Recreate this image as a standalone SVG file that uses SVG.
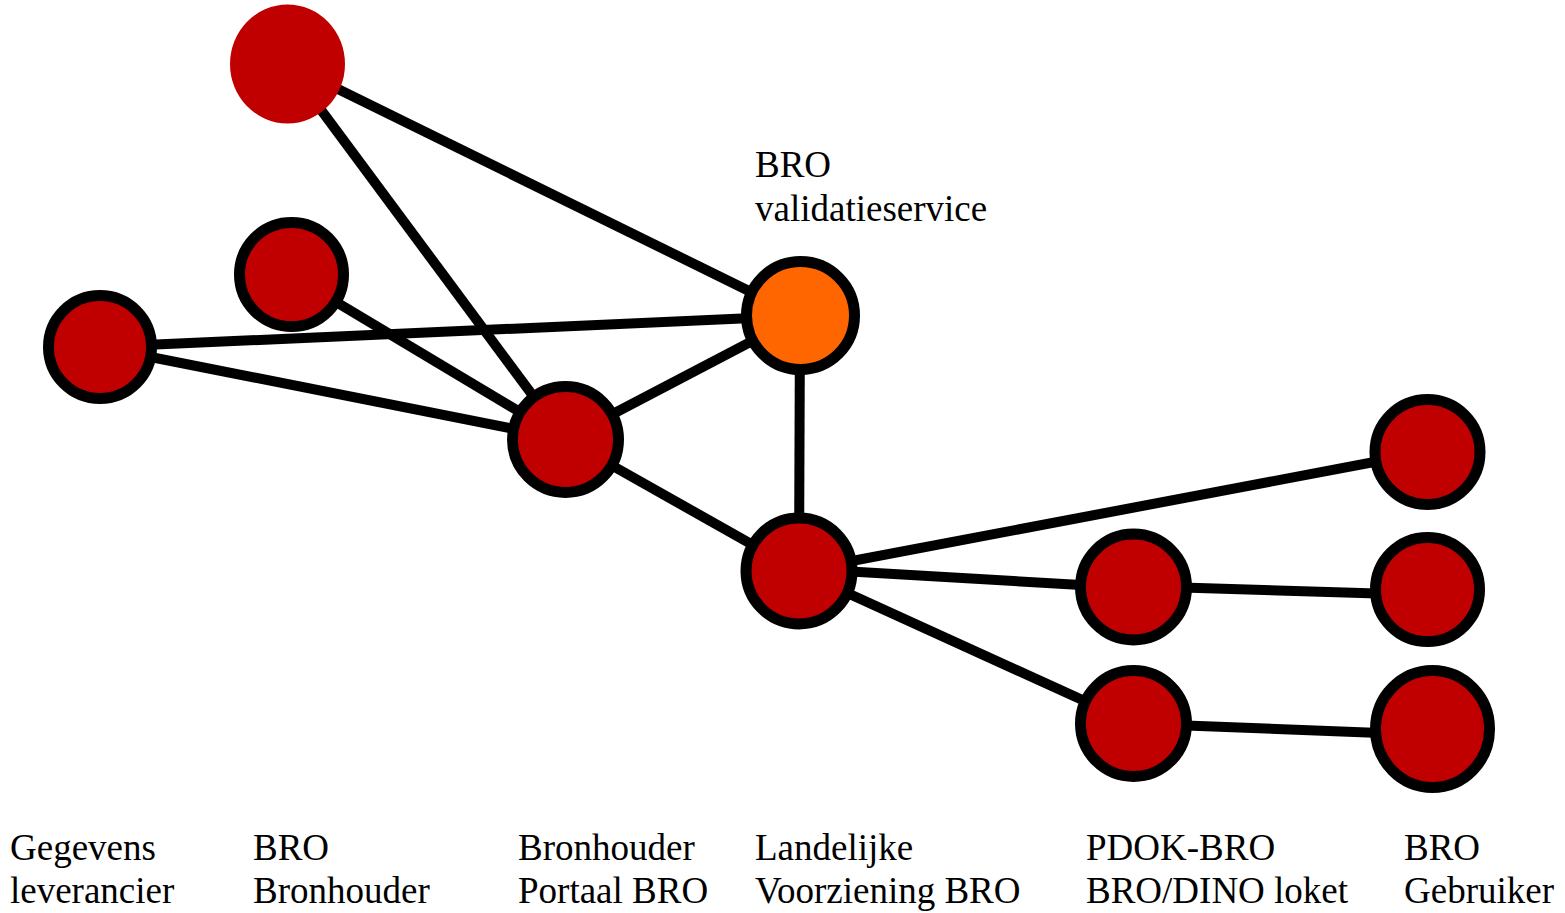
<svg xmlns="http://www.w3.org/2000/svg" width="1565" height="913" viewBox="0 0 1565 913">
<style>
.edge{stroke:#000;stroke-width:10;fill:none}
.n{fill:#C00000;stroke:#000;stroke-width:11}
.o{fill:#FF6600;stroke:#000;stroke-width:11}
.lbl{font-family:"Liberation Serif","Times New Roman",serif;font-size:37px;fill:#000}
</style>
<rect width="1565" height="913" fill="#fff"/>
<g id="connectors">
<line class="edge" x1="287" y1="64" x2="800" y2="316"/>
<line class="edge" x1="287" y1="64" x2="565" y2="439"/>
<line class="edge" x1="291" y1="275" x2="565" y2="439"/>
<line class="edge" x1="100" y1="347" x2="800" y2="316"/>
<line class="edge" x1="100" y1="347" x2="565" y2="439"/>
<line class="edge" x1="565" y1="439" x2="800" y2="316"/>
<line class="edge" x1="565" y1="439" x2="799" y2="571"/>
<line class="edge" x1="800" y1="316" x2="799" y2="571"/>
<line class="edge" x1="799" y1="571" x2="1427" y2="452"/>
<line class="edge" x1="799" y1="568.5" x2="1133" y2="588"/>
<line class="edge" x1="799" y1="571" x2="1133" y2="723"/>
<line class="edge" x1="1133" y1="586" x2="1427" y2="595"/>
<line class="edge" x1="1133" y1="723.5" x2="1432" y2="735"/>
</g>
<g id="node-top"><ellipse cx="287.5" cy="64" rx="57.5" ry="59.5" fill="#C00000"/></g>
<g id="node-bro-bronhouder"><circle class="n" cx="291.5" cy="274.5" r="52"/></g>
<g id="node-gegevens"><circle class="n" cx="100" cy="347" r="51.5"/></g>
<g id="node-validatie"><circle class="o" cx="800.5" cy="315.5" r="54"/>
<text class="lbl" x="755" y="177">BRO</text>
<text class="lbl" x="755" y="221">validatieservice</text></g>
<g id="node-portaal"><circle class="n" cx="565.5" cy="439.5" r="53"/></g>
<g id="node-lv"><circle class="n" cx="799" cy="571" r="53"/></g>
<g id="node-gebruiker1"><circle class="n" cx="1427.5" cy="452" r="52.5"/></g>
<g id="node-pdok1"><circle class="n" cx="1133.5" cy="587" r="53"/></g>
<g id="node-gebruiker2"><circle class="n" cx="1427.5" cy="589.5" r="52"/></g>
<g id="node-pdok2"><circle class="n" cx="1133.5" cy="723.5" r="53"/></g>
<g id="node-gebruiker3"><ellipse class="n" cx="1432.5" cy="729" rx="57" ry="58.5"/></g>
<g id="labels">
<text class="lbl" x="10" y="860">Gegevens</text>
<text class="lbl" x="10" y="903">leverancier</text>
<text class="lbl" x="253" y="860">BRO</text>
<text class="lbl" x="253" y="903">Bronhouder</text>
<text class="lbl" x="518" y="860">Bronhouder</text>
<text class="lbl" x="518" y="903">Portaal BRO</text>
<text class="lbl" x="755" y="860">Landelijke</text>
<text class="lbl" x="755" y="903">Voorziening BRO</text>
<text class="lbl" x="1086" y="860">PDOK-BRO</text>
<text class="lbl" x="1086" y="903">BRO/DINO loket</text>
<text class="lbl" x="1404" y="860">BRO</text>
<text class="lbl" x="1404" y="903">Gebruiker</text>
</g>
</svg>
